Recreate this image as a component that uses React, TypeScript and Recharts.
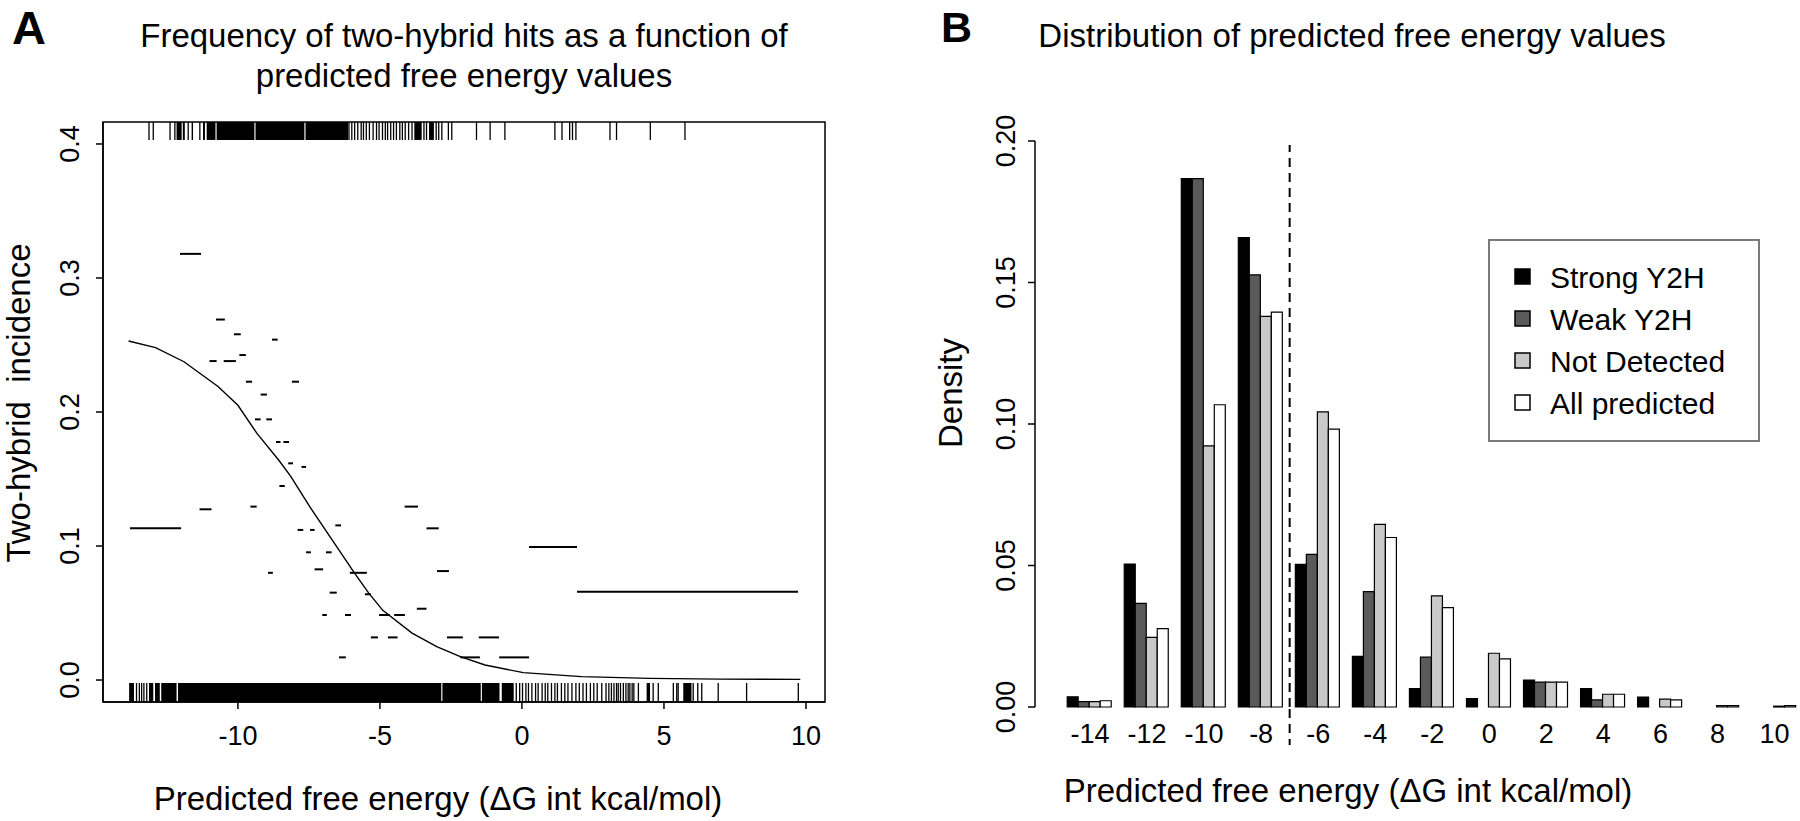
import React from "react";
import {
  ComposedChart,
  Line,
  Bar,
  XAxis,
  YAxis,
  ReferenceLine,
  ReferenceArea,
  Legend,
} from "recharts";

const FONT = '"Liberation Sans", Arial, Helvetica, sans-serif';

// ---- panel A: fitted incidence curve
const curveX = [-13.85, -12.9, -11.9, -10.7, -10.0, -9.33, -8.56, -8.14, -7.46, -6.6, -5.9, -5.4, -4.9, -3.87, -3.0, -2.17, -1.3, 0.05, 2.1, 4.5, 7.0, 9.8];
const curveY = [0.253, 0.248, 0.2375, 0.219, 0.205, 0.184, 0.164, 0.152, 0.129, 0.102, 0.08, 0.065, 0.052, 0.035, 0.0249, 0.0174, 0.0112, 0.0055, 0.0025, 0.0012, 0.0007, 0.0005];

// observed incidence per bin: [from, to, incidence]
const binSegments = [
  [-12.04, -11.3, 0.318],
  [-10.77, -10.46, 0.269],
  [-10.14, -9.9, 0.258],
  [-8.8, -8.6, 0.254],
  [-11.0, -10.75, 0.238],
  [-10.5, -10.07, 0.238],
  [-9.95, -9.72, 0.2425],
  [-9.72, -9.5, 0.2226],
  [-8.1, -7.85, 0.2226],
  [-9.2, -8.98, 0.213],
  [-9.4, -9.2, 0.1945],
  [-9.0, -8.8, 0.1945],
  [-8.66, -8.5, 0.1776],
  [-8.4, -8.2, 0.1776],
  [-8.23, -8.06, 0.1617],
  [-7.76, -7.6, 0.159],
  [-8.54, -8.35, 0.1448],
  [-11.35, -10.93, 0.1274],
  [-9.56, -9.34, 0.1294],
  [-4.13, -3.66, 0.1294],
  [-13.8, -12.0, 0.1132],
  [-7.9, -7.7, 0.112],
  [-7.46, -7.3, 0.112],
  [-6.57, -6.37, 0.1154],
  [-3.36, -2.93, 0.1132],
  [0.25, 1.94, 0.0993],
  [-7.6, -7.43, 0.0953],
  [-6.9, -6.7, 0.0953],
  [-8.94, -8.77, 0.08],
  [-7.3, -7.0, 0.0826],
  [-6.06, -5.46, 0.08],
  [-2.99, -2.57, 0.0813],
  [1.94, 9.72, 0.0659],
  [-6.77, -6.52, 0.0652],
  [-5.53, -5.32, 0.064],
  [-3.7, -3.36, 0.0532],
  [-7.03, -6.87, 0.0485],
  [-6.23, -6.02, 0.0485],
  [-5.03, -4.65, 0.0485],
  [-4.5, -4.12, 0.0485],
  [-5.32, -5.07, 0.0318],
  [-4.72, -4.38, 0.0318],
  [-2.64, -2.08, 0.0318],
  [-1.52, -0.81, 0.0318],
  [-6.44, -6.2, 0.0169],
  [-2.17, -1.48, 0.0169],
  [-0.8, 0.25, 0.0169],
];

// rug of two-hybrid hits (top) and non-hits (bottom)
const hitTicks = [-13.13, -12.98, -12.39, -12.22, -11.75, -11.34, -6.09, -5.99, -5.89, -5.78, -5.66, -5.58, -5.48, -5.37, -5.24, -5.12, -5.03, -4.91, -4.81, -4.73, -4.62, -4.52, -4.42, -4.3, -4.21, -4.11, -3.99, -3.87, -3.45, -3.36, -3.02, -2.93, -2.82, -2.59, -2.47, -1.6, -1.12, -0.6, 1.16, 1.41, 1.68, 1.78, 1.9, 3.1, 3.33, 4.52, 5.74];
const hitBands = [[-12.16, -11.98], [-11.94, -11.87], [-11.63, -11.58], [-11.23, -11.16], [-11.1, -10.79], [-10.75, -9.42], [-9.38, -7.66], [-7.62, -6.12], [-3.79, -3.53], [-3.27, -3.1]];
const missTicks = [-13.57, -13.47, -13.39, -13.31, -13.21, -0.2, -0.08, 0.02, 0.14, 0.23, 0.35, 0.48, 0.57, 0.71, 0.82, 0.91, 1.04, 1.16, 1.25, 1.39, 1.51, 1.62, 1.76, 1.9, 2.02, 2.15, 2.27, 2.41, 2.53, 2.65, 2.81, 2.96, 3.06, 3.15, 3.24, 3.33, 3.39, 3.47, 3.57, 3.66, 3.74, 3.8, 3.88, 3.94, 4.1, 4.62, 4.8, 5.33, 5.45, 5.5, 6.03, 6.19, 6.33, 6.91, 7.91, 9.73];
const missBands = [[-13.83, -13.66], [-13.13, -12.98], [-12.92, -12.75], [-12.7, -12.16], [-12.11, -2.84], [-2.8, -1.45], [-1.41, -0.79], [-0.71, -0.29], [4.39, 4.51], [5.68, 5.97]];

const xTicksA = [-10, -5, 0, 5, 10];
const yTicksA = [0, 0.1, 0.2, 0.3, 0.4];

// ---- panel B: densities per 2 kcal/mol bin
const bins = [-14, -12, -10, -8, -6, -4, -2, 0, 2, 4, 6, 8, 10];
const strongY2H = [0.0036, 0.0505, 0.1867, 0.1659, 0.0504, 0.0179, 0.0065, 0.003, 0.0095, 0.0065, 0.0035, 0, 0];
const weakY2H = [0.0019, 0.0366, 0.1867, 0.1527, 0.0539, 0.0408, 0.0176, 0, 0.0088, 0.0025, 0, 0, 0];
const notDetected = [0.0019, 0.0246, 0.0923, 0.138, 0.1043, 0.0645, 0.0393, 0.019, 0.0088, 0.0045, 0.0028, 0.0005, 0.0003];
const allPredicted = [0.0022, 0.0277, 0.1068, 0.1395, 0.0982, 0.0599, 0.0351, 0.017, 0.0088, 0.0045, 0.0025, 0.0005, 0.0005];
const yTicksB = [0, 0.05, 0.1, 0.15, 0.2];
const cutoffBin = "-8"; // dashed cut-off drawn at the right end of this bin

const seriesKeys = ["strong", "weak", "notDetected", "all"];
const seriesNames = ["Strong Y2H", "Weak Y2H", "Not Detected", "All predicted"];
const seriesColors = ["#000000", "#5a5a5a", "#c9c9c9", "#ffffff"];

const curveData = curveX.map((x, i) => ({ x, y: curveY[i] }));
const binRows = bins.map((bin, i) => ({
  bin: String(bin),
  strong: strongY2H[i],
  weak: weakY2H[i],
  notDetected: notDetected[i],
  all: allPredicted[i],
}));

const txt = { fontFamily: FONT, fill: "#000" };

// panel B layout
const B_TOP = 141;
const B_XAXIS_H = 114;
const B_PLOT_H = 821 - B_TOP - B_XAXIS_H;
const AXIS_X_B = 1035; // the density axis sits a little left of the first bar group

function XTickA({ x, payload }: any) {
  return (
    <text x={x} y={745} textAnchor="middle" fontSize={27} {...txt}>
      {payload.value}
    </text>
  );
}

function YTickA({ y, payload }: any) {
  return (
    <text transform={`translate(79,${y}) rotate(-90)`} textAnchor="middle" fontSize={27} {...txt}>
      {Number(payload.value).toFixed(1)}
    </text>
  );
}

// bin label; the cut-off bin also carries the tail of the dashed line below the baseline
function XTickB({ x, payload, width, visibleTicksCount }: any) {
  const band = typeof width === "number" && visibleTicksCount ? width / visibleTicksCount : null;
  const cx = band ? x + band / 2 : null;
  return (
    <g>
      {payload.value === cutoffBin && cx != null && (
        <line x1={cx} y1={709} x2={cx} y2={745} stroke="#000" strokeWidth={2} strokeDasharray="9 6" />
      )}
      <text x={x} y={743} textAnchor="middle" fontSize={27} {...txt}>
        {payload.value}
      </text>
    </g>
  );
}

// density tick: tick mark, rotated label, and (from the top tick) the axis line
function YTickB({ y, payload, height }: any) {
  const v = Number(payload.value);
  const h = Number(height);
  const span = Number.isFinite(h) && h > 0 ? h : B_PLOT_H;
  return (
    <g>
      {v === yTicksB[yTicksB.length - 1] && (
        <line x1={AXIS_X_B} y1={y} x2={AXIS_X_B} y2={y + span} stroke="#000" strokeWidth={1.5} />
      )}
      <line x1={AXIS_X_B - 7} y1={y} x2={AXIS_X_B} y2={y} stroke="#000" strokeWidth={1.5} />
      <text transform={`translate(1015,${y}) rotate(-90)`} textAnchor="middle" fontSize={27} {...txt}>
        {v.toFixed(2)}
      </text>
    </g>
  );
}

function LegendBox() {
  return (
    <svg width={272} height={203}>
      <rect x={1} y={1} width={270} height={201} fill="#fff" stroke="#7a7a7a" strokeWidth={2} />
      {seriesNames.map((name, i) => {
        const cy = 38 + i * 42;
        return (
          <g key={name}>
            <rect x={27} y={cy - 8} width={15} height={15} fill={seriesColors[i]} stroke="#000" strokeWidth={1.5} />
            <text x={62} y={cy + 11} fontSize={30} {...txt}>
              {name}
            </text>
          </g>
        );
      })}
    </svg>
  );
}

function PanelA() {
  const domX: [number, number] = [-14.75, 10.67];
  const domY: [number, number] = [-0.0164, 0.4164];
  return (
    <ComposedChart width={860} height={821} data={curveData} margin={{ top: 122, right: 35, bottom: 0, left: 0 }}>
      <XAxis dataKey="x" type="number" domain={domX} ticks={xTicksA} allowDataOverflow height={119}
        stroke="#000" strokeWidth={1.5} tickSize={7} tick={<XTickA />} />
      <YAxis type="number" domain={domY} ticks={yTicksA} allowDataOverflow width={103}
        stroke="#000" strokeWidth={1.5} tickSize={7} tick={<YTickA />} />

      {/* plot frame (R box) */}
      <ReferenceArea x1={domX[0]} x2={domX[1]} y1={domY[0]} y2={domY[1]} fill="none" stroke="#000"
        strokeWidth={1.5} ifOverflow="visible" />

      {missBands.map(([a, b], i) => (
        <ReferenceArea key={"mb" + i} x1={a} x2={b} y1={-0.0164} y2={-0.0022} fill="#000" fillOpacity={1} stroke="none" ifOverflow="visible" />
      ))}
      {missTicks.map((v, i) => (
        <ReferenceLine key={"mt" + i} segment={[{ x: v, y: -0.0164 }, { x: v, y: -0.0022 }]} stroke="#000" strokeWidth={1.3} ifOverflow="visible" />
      ))}
      {hitBands.map(([a, b], i) => (
        <ReferenceArea key={"hb" + i} x1={a} x2={b} y1={0.403} y2={0.4164} fill="#000" fillOpacity={1} stroke="none" ifOverflow="visible" />
      ))}
      {hitTicks.map((v, i) => (
        <ReferenceLine key={"ht" + i} segment={[{ x: v, y: 0.403 }, { x: v, y: 0.4164 }]} stroke="#000" strokeWidth={1.3} ifOverflow="visible" />
      ))}
      {binSegments.map(([a, b, y], i) => (
        <ReferenceLine key={"s" + i} segment={[{ x: a, y }, { x: b, y }]} stroke="#000" strokeWidth={2} ifOverflow="visible" />
      ))}

      <Line dataKey="y" type="linear" stroke="#000" strokeWidth={1.4} dot={false} isAnimationActive={false} />
    </ComposedChart>
  );
}

function PanelB() {
  return (
    <ComposedChart width={1803} height={821} data={binRows} margin={{ top: B_TOP, right: 0, bottom: 0, left: 0 }}
      barCategoryGap="10%" barGap={0}>
      <XAxis dataKey="bin" height={B_XAXIS_H} axisLine={false} tickLine={false} interval={0} tick={<XTickB />} />
      <YAxis type="number" domain={[0, 0.2]} ticks={yTicksB} width={1061.5}
        axisLine={false} tickLine={false} tick={<YTickB />} />
      {seriesKeys.map((k, i) => (
        <Bar key={k} dataKey={k} name={seriesNames[i]} fill={seriesColors[i]} stroke="#000" strokeWidth={1.2}
          isAnimationActive={false} />
      ))}
      {/* cut-off between the -8 and -6 bins */}
      <ReferenceLine segment={[{ x: cutoffBin, y: 0 }, { x: cutoffBin, y: 0.1986 }]} position="end" stroke="#000"
        strokeWidth={2} strokeDasharray="9 6" ifOverflow="visible" />
      <Legend layout="vertical" align="center" verticalAlign="middle" content={<LegendBox />}
        wrapperStyle={{ position: "absolute", left: 1488, top: 239, width: 272, height: 203 }} />
    </ComposedChart>
  );
}

export default function App() {
  const layer: React.CSSProperties = { position: "absolute", left: 0, top: 0 };
  return (
    <div style={{ position: "absolute", left: 0, top: 0, width: 1800, height: 821, overflow: "hidden", background: "#fff" }}>
      <div style={layer}>
        <PanelA />
      </div>
      <div style={layer}>
        <PanelB />
      </div>
      <svg width={1800} height={821} style={{ ...layer, pointerEvents: "none" }}>
        <text x={12} y={44} fontSize={47} fontWeight="bold" {...txt}>A</text>
        <text x={941} y={42} fontSize={43} fontWeight="bold" {...txt}>B</text>
        <text x={464} y={47} fontSize={33} textAnchor="middle" {...txt}>Frequency of two-hybrid hits as a function of</text>
        <text x={464} y={87} fontSize={33} textAnchor="middle" {...txt}>predicted free energy values</text>
        <text x={1352} y={47} fontSize={33} textAnchor="middle" {...txt}>Distribution of predicted free energy values</text>
        <text x={438} y={810} fontSize={33} textAnchor="middle" {...txt}>Predicted free energy (ΔG int kcal/mol)</text>
        <text x={1348} y={802} fontSize={33} textAnchor="middle" {...txt}>Predicted free energy (ΔG int kcal/mol)</text>
        <text transform="translate(30,403) rotate(-90)" fontSize={33} textAnchor="middle" style={{ whiteSpace: "pre" }} {...txt}>
          {"Two-hybrid  incidence"}
        </text>
        <text transform="translate(962,393) rotate(-90)" fontSize={33} textAnchor="middle" {...txt}>Density</text>
      </svg>
    </div>
  );
}
